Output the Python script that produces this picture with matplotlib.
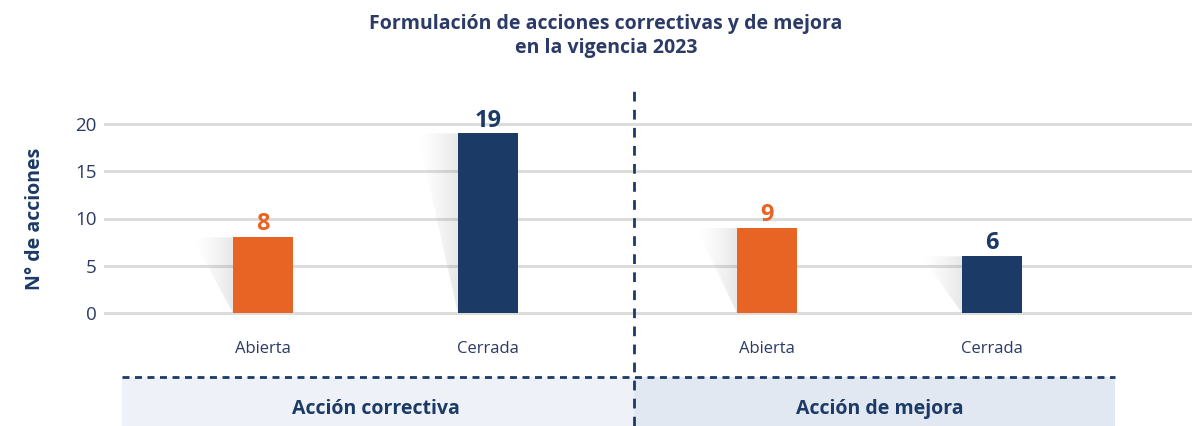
import matplotlib.pyplot as plt
import matplotlib.transforms as mtransforms
from matplotlib.patches import Polygon, Rectangle
import numpy as np

# data
groups = ['Acción correctiva', 'Acción de mejora']
estados = ['Abierta', 'Cerrada']
valores = [[8, 19], [9, 6]]
colores = ['#e86424', '#1b3a66']

navy = '#1b3a66'
texto = '#2b3a67'
plt.rcParams['font.family'] = ['Open Sans', 'DejaVu Sans']

fig = plt.figure(figsize=(11.92, 4.26), dpi=100)
ax = fig.add_axes([105 / 1192, 1 - 313 / 426, 1 - 105 / 1192, (313 - 124) / 426])

# x positions: one unit between bars in a group, bigger gap between groups
gap = 2.24
w = 0.267
shadow = 0.18

for g, grupo in enumerate(groups):
    for i, est in enumerate(estados):
        x = g * gap + i
        v = valores[g][i]
        ax.bar(x, v, width=w, color=colores[i], zorder=3)
        # soft shadow on the left of each bar
        left = x - w / 2
        poly = Polygon([[left, v], [left - shadow, v], [left, 0]], closed=True,
                       facecolor='none', edgecolor='none', transform=ax.transData)
        ax.add_patch(poly)
        grad = np.zeros((2, 64, 4))
        grad[..., :3] = 0.55
        grad[..., 3] = np.linspace(0, 0.35, 64) ** 1.5
        im = ax.imshow(grad, extent=[left - shadow, left, 0, v], aspect='auto',
                       zorder=2, interpolation='bilinear')
        im.set_clip_path(poly)
        ax.text(x, v + 0.1, str(v), ha='center', va='bottom', fontsize=17,
                fontweight='bold', color=colores[i], zorder=4)
        ax.text(x, -3.85, est, ha='center', va='center', fontsize=12,
                color=texto)

ax.set_xlim(-0.702, 4.129)
ax.set_ylim(0, 20)
ax.set_yticks([0, 5, 10, 15, 20])
ax.yaxis.grid(True, color='#dcdcdc', linewidth=2.2, zorder=0)
for gl in ax.get_ygridlines():
    gl.set_clip_on(False)
ax.set_axisbelow(True)
ax.set_xticks([])
for s in ax.spines.values():
    s.set_visible(False)
ax.tick_params(axis='y', length=0, pad=6, labelsize=13.5, labelcolor=texto)
ax.set_ylabel('N° de acciones', fontsize=14, fontweight='bold', color=navy,
              labelpad=22)

# bottom band with group labels
trans = mtransforms.blended_transform_factory(ax.transData, fig.transFigure)
div = 1.649
band_l, band_r = -0.627, 3.787
y0, y1 = 0, 1 - 377 / 426
ax.add_patch(Rectangle((band_l, y0), div - band_l, y1 - y0, transform=trans,
                       facecolor='#eef2f8', edgecolor='none', clip_on=False))
ax.add_patch(Rectangle((div, y0), band_r - div, y1 - y0, transform=trans,
                       facecolor='#e1e8f2', edgecolor='none', clip_on=False))
ax.plot([band_l, band_r], [y1, y1], transform=trans, color=navy, lw=2,
        dashes=(2.5, 2), clip_on=False)
ax.plot([div, div], [0, 1 - 88 / 426], transform=trans, color=navy, lw=2,
        dashes=(3.5, 3), clip_on=False)
for g, grupo in enumerate(groups):
    xc = g * gap + 0.5
    ax.text(xc, 1 - 409 / 426, grupo, transform=trans, ha='center', va='center',
            fontsize=14, fontweight='bold', color=navy)

fig.text(606 / 1192, 1 - 36 / 426,
         'Formulación de acciones correctivas y de mejora\nen la vigencia 2023',
         ha='center', va='center', fontsize=14, fontweight='bold', color=texto,
         linespacing=1.3)

fig.savefig('out.png', dpi=100)
